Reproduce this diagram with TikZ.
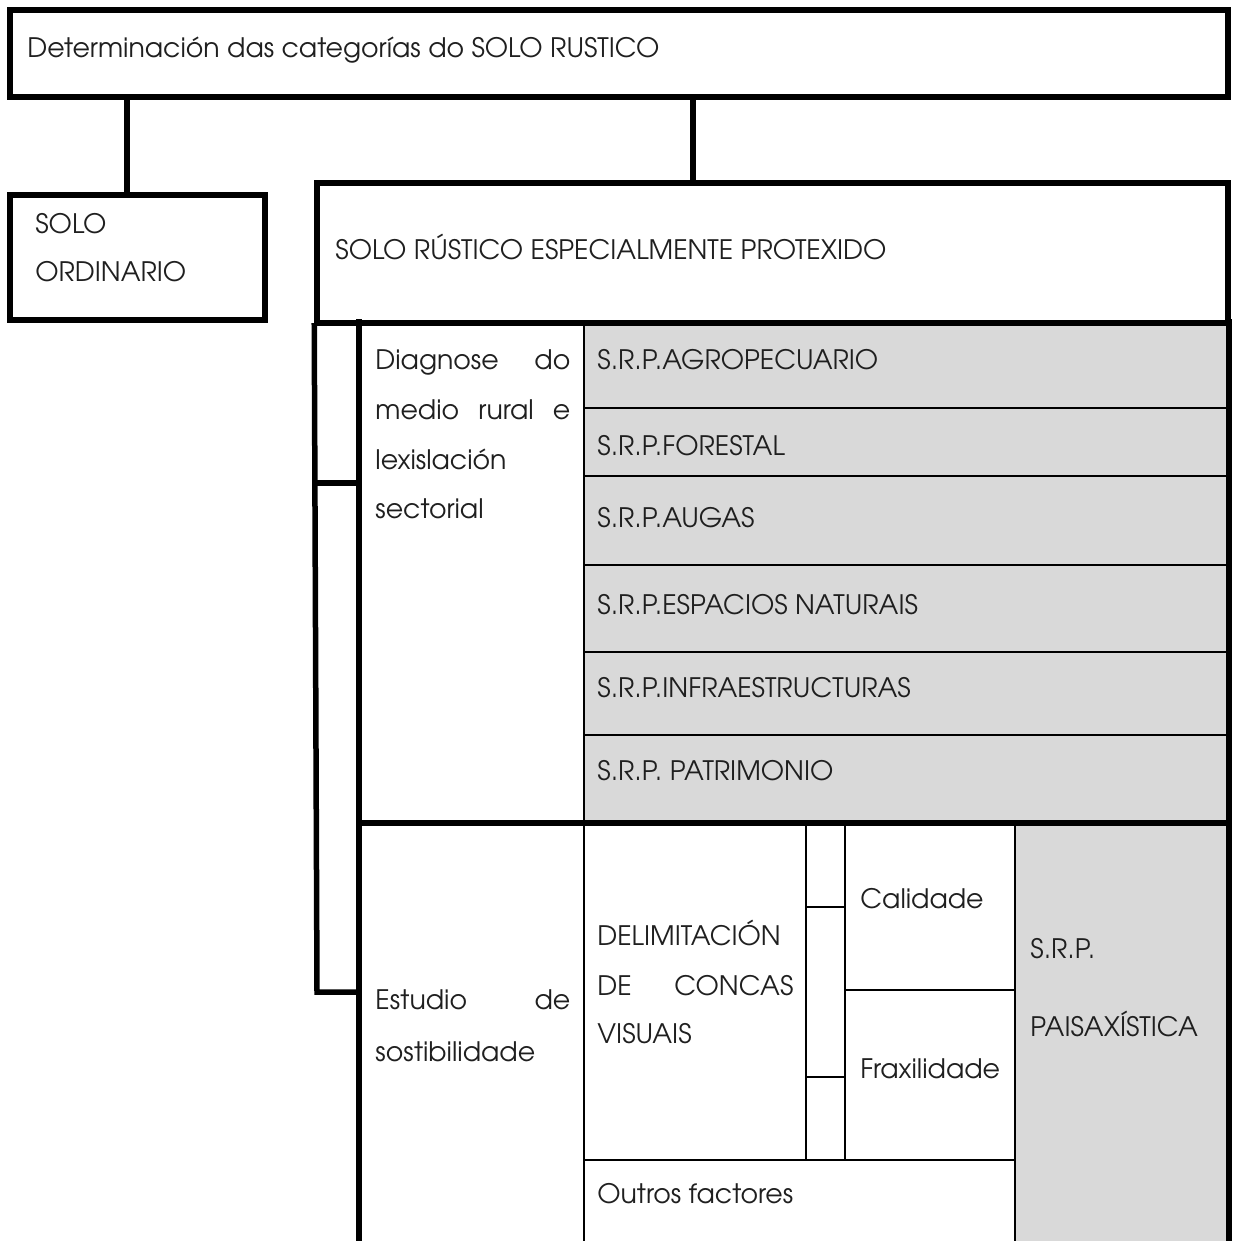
\documentclass[tikz,border=0pt]{standalone}
\usepackage{fontspec}
\setmainfont{texgyreadventor-regular.otf}
\usetikzlibrary{fit}
\definecolor{cellgray}{HTML}{D9D9D9}
\begin{document}
\begin{tikzpicture}[x=0.5pt,y=-0.5pt,
  heavy/.style={line width=2.75pt, line cap=rect, line join=miter},
  light/.style={line width=1pt},
  cell/.style={draw, light, rectangle, inner sep=0pt},
  graycell/.style={cell, fill=cellgray},
  box/.style={draw, heavy, rectangle, inner sep=0pt},
  txt/.style={anchor=base west, inner sep=0pt, text=black!88, font=\fontsize{13.4}{15}\selectfont}]
\useasboundingbox (0,0) rectangle (1232,1241);
\clip (0,0) rectangle (1232,1241);
% cells
\node[cell, fit={(360,323)(584,822)}] (diag) {};
\node[graycell, fit={(584,323)(1228,408)}] (agro) {};
\node[graycell, fit={(584,408)(1228,476)}] (fore) {};
\node[graycell, fit={(584,476)(1228,565)}] (augas) {};
\node[graycell, fit={(584,565)(1228,652)}] (esp) {};
\node[graycell, fit={(584,652)(1228,735)}] (infra) {};
\node[graycell, fit={(584,735)(1228,822)}] (patr) {};
\node[cell, fit={(360,822)(584,1270)}] (estu) {};
\node[cell, fit={(584,822)(806,1160)}] (delim) {};
\node[cell, fit={(806,822)(845,907)}] (k1) {};
\node[cell, fit={(806,907)(845,1077)}] (k2) {};
\node[cell, fit={(806,1077)(845,1160)}] (k3) {};
\node[cell, fit={(845,822)(1015,990)}] (cal) {};
\node[cell, fit={(845,990)(1015,1160)}] (frax) {};
\node[cell, fit={(584,1160)(1015,1270)}] (outros) {};
\node[graycell, fit={(1015,822)(1228,1270)}] (pais) {};
% heavy boxes
\node[box, fit={(10,10)(1228,97)}] (top) {};
\node[box, fit={(10,195)(265,320)}] (ord) {};
\node[box, fit={(317,183)(1228,323)}] (srp) {};
% connectors
\coordinate (c1) at (127,0);
\coordinate (c2) at (693,0);
\coordinate (brk) at (317,992);
\coordinate (mid) at (317,483);
\draw[heavy] (top.south -| c1) -- (ord.north -| c1);
\draw[heavy] (top.south -| c2) -- (srp.north -| c2);
\draw[heavy] (srp.south west) -- (brk) -- (brk -| diag.west);
\draw[heavy] (mid) -- (mid -| diag.west);
\draw[heavy] (diag.north west) -- (estu.south west);
\draw[heavy] (diag.south west) -- (patr.south east);
\draw[heavy] (agro.north east) -- (pais.south east);
% texts
\node[txt] (t0) at (27,58) {Determinación das categorías do SOLO RUSTICO};
\node[txt] (t1) at (35,234) {SOLO};
\node[txt] (t2) at (35,281) {ORDINARIO};
\node[txt] (t3) at (335,259) {SOLO RÚSTICO ESPECIALMENTE PROTEXIDO};
\node[txt] (d1) at (375,369) {\makebox[97.5pt][s]{Diagnose do}};
\node[txt] (d2) at (375,419) {\makebox[97.5pt][s]{medio rural e}};
\node[txt] (d3) at (375,469) {lexislación};
\node[txt] (d4) at (375,518) {sectorial};
\node[txt] (r1) at (597,369) {S.R.P.AGROPECUARIO};
\node[txt] (r2) at (597,455) {S.R.P.FORESTAL};
\node[txt] (r3) at (597,527) {S.R.P.AUGAS};
\node[txt] (r4) at (597,614) {S.R.P.ESPACIOS NATURAIS};
\node[txt] (r5) at (597,697) {S.R.P.INFRAESTRUCTURAS};
\node[txt] (r6) at (597,780) {S.R.P. PATRIMONIO};
\node[txt] (e1) at (375,1009) {\makebox[97.5pt][s]{Estudio de}};
\node[txt] (e2) at (375,1061) {sostibilidade};
\node[txt] (l1) at (597,945) {DELIMITACIÓN};
\node[txt] (l2) at (597,995) {\makebox[98pt][s]{DE CONCAS}};
\node[txt] (l3) at (597,1043) {VISUAIS};
\node[txt] (q1) at (860,908) {Calidade};
\node[txt] (q2) at (860,1078) {Fraxilidade};
\node[txt] (p1) at (1030,958) {S.R.P.};
\node[txt] (p2) at (1030,1036) {PAISAXÍSTICA};
\node[txt] (o1) at (597,1203) {Outros factores};
\end{tikzpicture}
\end{document}
